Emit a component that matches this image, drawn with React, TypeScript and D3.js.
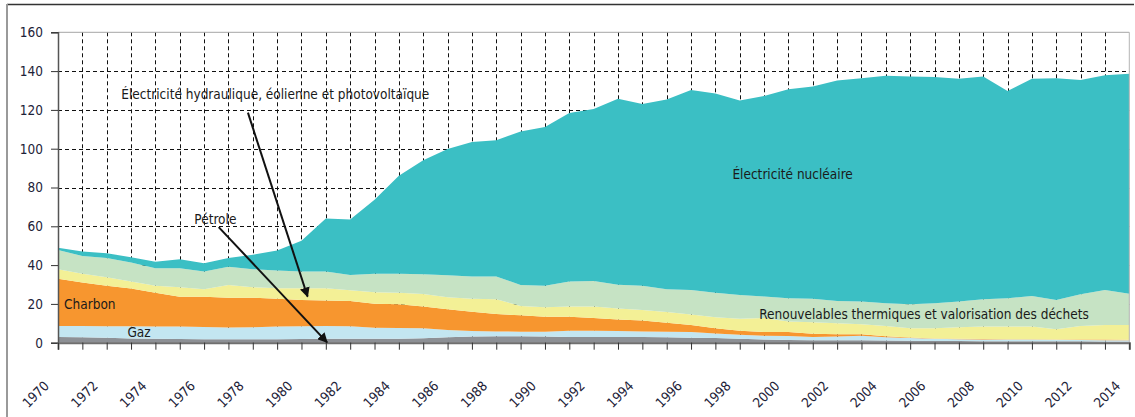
import React, { useRef, useEffect } from "react"
import * as d3 from "d3"

// années (catégories)
const years = [
  1970, 1971, 1972, 1973, 1974, 1975, 1976, 1977, 1978, 1979,
  1980, 1981, 1982, 1983, 1984, 1985, 1986, 1987, 1988, 1989,
  1990, 1991, 1992, 1993, 1994, 1995, 1996, 1997, 1998, 1999,
  2000, 2001, 2002, 2003, 2004, 2005, 2006, 2007, 2008, 2009,
  2010, 2011, 2012, 2013, 2014,
]

// séries (Mtep), de bas en haut
const petrole = [
  3.0, 2.8, 2.5, 2.2, 2.0, 1.9, 1.8, 1.8, 1.8, 1.8,
  1.9, 2.0, 2.0, 2.0, 2.0, 2.3, 2.8, 3.2, 3.3, 3.3,
  3.2, 3.0, 3.0, 3.0, 3.0, 2.8, 2.6, 2.4, 2.0, 1.6,
  1.4, 1.2, 1.2, 1.2, 1.1, 1.0, 0.9, 0.9, 0.8, 0.8,
  0.8, 0.7, 0.7, 0.6, 0.6,
]
const gaz = [
  5.6, 5.8, 6.0, 6.3, 6.4, 6.4, 6.3, 6.0, 6.2, 6.5,
  6.6, 6.6, 6.5, 5.7, 5.6, 5.1, 3.7, 2.8, 2.5, 2.4,
  2.5, 3.1, 3.2, 3.0, 2.8, 2.9, 2.9, 2.4, 2.1, 2.0,
  2.1, 1.8, 2.0, 2.4, 1.7, 1.4, 1.1, 0.9, 0.9, 0.8,
  0.8, 0.8, 0.7, 0.7, 0.6,
]
const charbon = [
  24.3, 22.4, 20.9, 19.4, 17.3, 15.4, 15.6, 15.4, 15.2, 14.3,
  13.5, 13.1, 13.0, 12.4, 12.2, 11.2, 10.7, 10.0, 9.0, 8.4,
  7.7, 7.3, 6.5, 6.0, 5.6, 4.6, 3.6, 2.6, 2.0, 1.9,
  2.0, 1.6, 1.2, 0.8, 0.5, 0.3, 0.2, 0.2, 0.2, 0.2,
  0.2, 0.2, 0.3, 0.4, 0.3,
]
const hydro = [
  5.0, 4.5, 4.4, 3.6, 3.6, 4.9, 3.8, 6.6, 5.4, 5.5,
  6.1, 6.4, 5.5, 5.9, 6.0, 6.5, 6.2, 6.6, 7.6, 4.8,
  4.9, 5.2, 5.9, 5.6, 5.5, 5.5, 5.4, 5.7, 6.3, 7.2,
  5.4, 5.9, 5.6, 5.1, 5.3, 4.7, 5.2, 5.9, 6.4, 6.5,
  6.5, 5.2, 6.9, 7.4, 7.6,
]
const renouvelables = [
  9.9, 9.2, 9.8, 9.8, 9.1, 9.8, 9.2, 9.4, 9.3, 9.1,
  8.6, 8.6, 7.9, 9.5, 9.7, 10.2, 11.4, 11.5, 11.7, 10.9,
  11.0, 12.9, 13.2, 12.3, 12.4, 11.8, 12.7, 12.7, 12.2, 11.1,
  12.0, 12.1, 11.5, 11.7, 11.7, 12.4, 12.9, 13.3, 14.1, 14.6,
  15.8, 15.1, 16.4, 18.1, 16.1,
]
const nucleaire = [
  1.2, 2.3, 2.5, 2.8, 3.3, 4.6, 4.3, 4.4, 7.4, 10.3,
  15.8, 27.3, 28.6, 38.2, 50.6, 58.7, 65.0, 69.3, 70.2, 79.1,
  81.9, 86.9, 88.6, 95.9, 93.8, 97.8, 103.1, 102.6, 100.3, 103.4,
  107.8, 109.5, 113.6, 115.1, 117.3, 117.4, 116.6, 114.8, 114.8, 106.9,
  111.9, 114.3, 110.4, 110.6, 113.4,
]

const yTicks = [0, 20, 40, 60, 80, 100, 120, 140, 160]

const keys = ["petrole", "gaz", "charbon", "hydro", "renouvelables", "nucleaire"]
const colors = {
  petrole: "#8d9095",
  gaz: "#c3e6f1",
  charbon: "#f7962f",
  hydro: "#f3f096",
  renouvelables: "#c6e3c4",
  nucleaire: "#3bbfc4",
}

const FONT = "'DejaVu Sans Condensed', 'DejaVu Sans', sans-serif"
const INK = "#1d2238"

const App = () => {
  const ref = useRef(null)
  const width = 1135
  const height = 417

  useEffect(() => {
    if (!ref.current) return
    const svg = d3.select(ref.current)
    svg.selectAll("*").remove()

    const x = d3
      .scaleLinear()
      .domain([years[0], years[years.length - 1]])
      .range([58, 1129.3])
    const y = d3.scaleLinear().domain([0, 160]).range([342.7, 32.3])

    // cadre extérieur
    svg.append("line")
      .attr("x1", 7).attr("x2", 1134).attr("y1", 4.5).attr("y2", 4.5)
      .attr("stroke", "#333").attr("stroke-width", 1.5)
    svg.append("line")
      .attr("x1", 7).attr("x2", 7).attr("y1", 4).attr("y2", height)
      .attr("stroke", "#9a9a9a").attr("stroke-width", 2)

    // grille
    const grid = svg.append("g").attr("stroke", "#111").attr("stroke-width", 1)
    grid.selectAll("line.h")
      .data(yTicks.filter(t => t > 0 && t < 160))
      .join("line")
      .attr("x1", x.range()[0]).attr("x2", x.range()[1])
      .attr("y1", d => Math.round(y(d)) + 0.5).attr("y2", d => Math.round(y(d)) + 0.5)
      .attr("stroke-dasharray", "4,3")
    grid.selectAll("line.v")
      .data(years.slice(1, -1))
      .join("line")
      .attr("x1", d => Math.round(x(d)) + 0.5).attr("x2", d => Math.round(x(d)) + 0.5)
      .attr("y1", y(160)).attr("y2", y(0))
      .attr("stroke-dasharray", "4,3")

    // aires empilées
    const table = years.map((yr, i) => ({
      year: yr,
      petrole: petrole[i],
      gaz: gaz[i],
      charbon: charbon[i],
      hydro: hydro[i],
      renouvelables: renouvelables[i],
      nucleaire: nucleaire[i],
    }))
    const series = d3.stack().keys(keys)(table)
    const area = d3.area()
      .x(d => x(d.data.year))
      .y0(d => y(d[0]))
      .y1(d => y(d[1]))
    svg.append("g")
      .selectAll("path")
      .data(series)
      .join("path")
      .attr("fill", d => colors[d.key])
      .attr("d", area)

    // bord haut et droit de la zone de tracé
    svg.append("line")
      .attr("x1", x.range()[0]).attr("x2", x.range()[1])
      .attr("y1", y(160)).attr("y2", y(160))
      .attr("stroke", "#a6a6a6").attr("stroke-width", 1)
    svg.append("line")
      .attr("x1", x.range()[1]).attr("x2", x.range()[1])
      .attr("y1", y(160)).attr("y2", y(0))
      .attr("stroke", "#b5b5b5").attr("stroke-width", 1)

    // axe Y
    const yAxis = svg.append("g")
      .attr("transform", `translate(${x.range()[0]},0)`)
      .call(d3.axisLeft(y).tickValues(yTicks).tickSize(7).tickPadding(8).tickFormat(d3.format("d")))
    yAxis.select(".domain").attr("stroke", "#555").attr("stroke-width", 1.5)
    yAxis.selectAll(".tick line").attr("stroke", "#333")
    yAxis.selectAll("text")
      .attr("font-family", FONT).attr("font-size", 13.5).attr("fill", INK)

    // axe X
    const xAxis = svg.append("g")
      .attr("transform", `translate(0,${y(0)})`)
      .call(d3.axisBottom(x).tickValues(years).tickSize(7).tickFormat(() => ""))
    xAxis.select(".domain").attr("stroke", "#6f6f6f").attr("stroke-width", 2)
    xAxis.selectAll(".tick line").attr("stroke", "#333")

    svg.append("g")
      .selectAll("text")
      .data(years.filter(d => d % 2 === 0))
      .join("text")
      .attr("transform", d => `translate(${x(d) - 8},${y(0) + 44}) rotate(-45)`)
      .attr("text-anchor", "end")
      .attr("font-family", FONT).attr("font-size", 13.5).attr("fill", INK)
      .text(d => d)

    // annotations
    const defs = svg.append("defs")
    defs.append("marker")
      .attr("id", "fleche")
      .attr("viewBox", "0 0 10 10")
      .attr("refX", 9).attr("refY", 5)
      .attr("markerWidth", 5).attr("markerHeight", 5)
      .attr("orient", "auto")
      .append("path").attr("d", "M0,0 L10,5 L0,10 z").attr("fill", "#111")

    const arrows = [
      { from: [1977.8, 118.6], to: [1980.25, 23.8] },
      { from: [1976.6, 59.6], to: [1981.05, 0.2] },
    ]
    svg.append("g")
      .selectAll("line")
      .data(arrows)
      .join("line")
      .attr("x1", d => x(d.from[0])).attr("y1", d => y(d.from[1]))
      .attr("x2", d => x(d.to[0])).attr("y2", d => y(d.to[1]))
      .attr("stroke", "#111").attr("stroke-width", 2)
      .attr("marker-end", "url(#fleche)")

    const labels = [
      { text: "Électricité hydraulique, éolienne et photovoltaïque", at: [1972.6, 125.6] },
      { text: "Pétrole", at: [1975.6, 61.2] },
      { text: "Charbon", at: [1970.25, 17.5] },
      { text: "Gaz", at: [1972.85, 2.9] },
      { text: "Électricité nucléaire", at: [1997.7, 84.2] },
      { text: "Renouvelables thermiques et valorisation des déchets", at: [1998.8, 12.2] },
    ]
    svg.append("g")
      .selectAll("text")
      .data(labels)
      .join("text")
      .attr("x", d => x(d.at[0])).attr("y", d => y(d.at[1]))
      .attr("font-family", FONT).attr("font-size", 13.5).attr("fill", "#1a1a1a")
      .text(d => d.text)
  }, [])

  return (
    <svg
      ref={ref}
      width={width}
      height={height}
      style={{ position: "absolute", left: 0, top: 0, background: "#fff" }}
    />
  )
}

export default App
